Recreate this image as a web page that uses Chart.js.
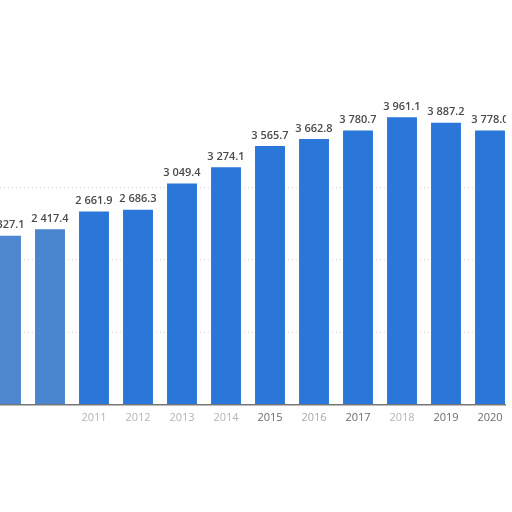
<!DOCTYPE html>
<html>
<head>
<meta charset="utf-8">
<script src="https://cdn.jsdelivr.net/npm/chart.js@4.4.1/dist/chart.umd.min.js"></script>
<style>
  html, body { margin: 0; padding: 0; background: #ffffff; }
  body { width: 512px; height: 512px; overflow: hidden; position: relative; }
  #clip { position: absolute; left: 0; top: 0; width: 506px; height: 512px; overflow: hidden; }
  #wrap { position: absolute; left: -16px; top: 0; width: 528px; height: 512px; }
</style>
</head>
<body>
<div id="clip"><div id="wrap"><canvas id="c"></canvas></div></div>
<script>
const years = ['2009','2010','2011','2012','2013','2014','2015','2016','2017','2018','2019','2020'];
const values = [2327.1, 2417.4, 2661.9, 2686.3, 3049.4, 3274.1, 3565.7, 3662.8, 3780.7, 3961.1, 3887.2, 3778.0];
const yMin = 0;
const yMax = 5000;
const yStep = 1000;
const gridTop = 3000;

const tickColors = ['rgba(0,0,0,0)','rgba(0,0,0,0)','#b4b4b4','#b4b4b4','#b4b4b4','#b4b4b4','#6b6b6b','#a8a8a8','#6b6b6b','#b4b4b4','#6b6b6b','#6b6b6b'];
const barColors = ['#4e86cf','#4a85d0','#2a76d9','#2a76d9','#2a76d9','#2a76d9','#2a76d9','#2a76d9','#2a76d9','#2a76d9','#2a76d9','#2a76d9'];

function fmt(v) {
  const s = v.toFixed(1);
  const [i, d] = s.split('.');
  return i.replace(/\B(?=(\d{3})+(?!\d))/g, ' ') + '.' + d;
}

const valueLabels = {
  id: 'valueLabels',
  afterDatasetsDraw(chart) {
    const ctx = chart.ctx;
    const meta = chart.getDatasetMeta(0);
    ctx.save();
    ctx.font = '600 11px "Open Sans", "DejaVu Sans", sans-serif';
    ctx.fillStyle = '#4a4a4a';
    ctx.textAlign = 'center';
    ctx.textBaseline = 'bottom';
    meta.data.forEach((bar, i) => {
      ctx.fillText(fmt(values[i]), bar.x, bar.y - 5);
    });
    ctx.restore();
  }
};

new Chart(document.getElementById('c'), {
  type: 'bar',
  data: {
    labels: years,
    datasets: [{
      data: values,
      backgroundColor: barColors,
      borderWidth: 0,
      categoryPercentage: 1.0,
      barPercentage: 0.68
    }]
  },
  options: {
    responsive: true,
    maintainAspectRatio: false,
    animation: false,
    layout: { padding: { top: 42, bottom: 0, left: 0, right: 0 } },
    plugins: { legend: { display: false }, tooltip: { enabled: false } },
    scales: {
      x: {
        grid: { display: false, drawTicks: false },
        border: { display: true, color: '#777777', width: 1.5 },
        ticks: {
          padding: 7,
          color: (ctx) => tickColors[ctx.index],
          font: { family: '"Open Sans", "DejaVu Sans", sans-serif', size: 11 },
          maxRotation: 0,
          autoSkip: false
        },
        afterFit: (s) => { s.height = 107.5; }
      },
      y: {
        min: yMin,
        max: yMax,
        ticks: { display: false, stepSize: yStep },
        grid: {
          color: (ctx) => (ctx.tick && ctx.tick.value > gridTop) ? 'rgba(0,0,0,0)' : '#d4d4d4',
          lineWidth: 1,
          drawTicks: false
        },
        border: { display: false, dash: [1, 3] },
        afterFit: (s) => { s.width = 0; }
      }
    }
  },
  plugins: [valueLabels]
});
</script>
</body>
</html>
